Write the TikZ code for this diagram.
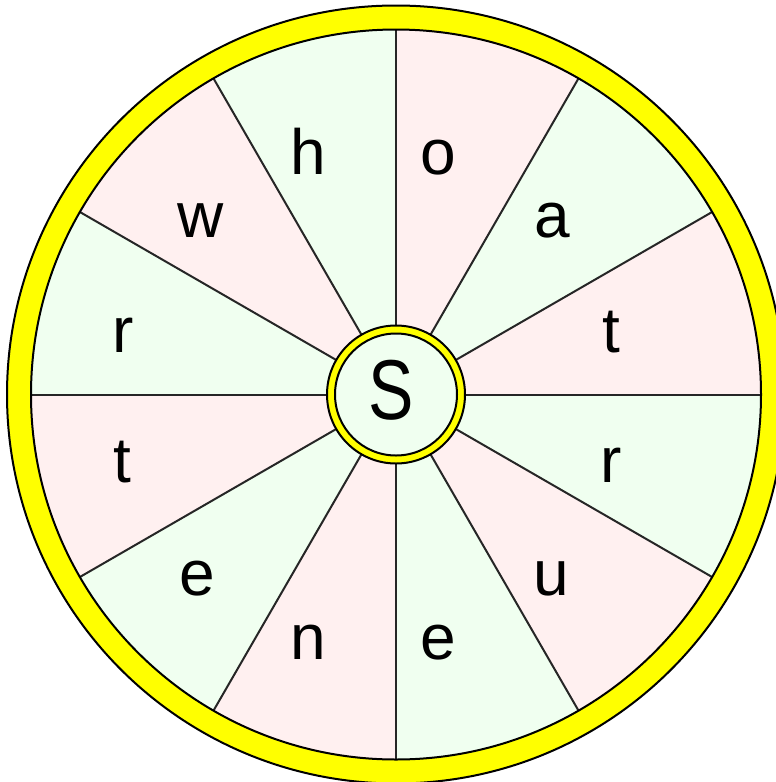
\documentclass[tikz,border=0pt]{standalone}
\usepackage{fontspec}
\setmainfont{Liberation Sans}
\definecolor{pinkc}{HTML}{FFF0F0}
\definecolor{greenc}{HTML}{F0FFF0}
\definecolor{ringy}{HTML}{FFFF00}
\begin{document}
\begin{tikzpicture}[x=1pt,y=1pt,
  letter/.style={font=\fontsize{64}{64}\selectfont, anchor=base, inner sep=0pt},
  spoke/.style={line width=2pt, draw=black!85},
  edgeline/.style={line width=2pt, draw=black}]
\useasboundingbox (0,0) rectangle (776,-782);
\clip (0,0) rectangle (776,-782);
\fill[white] (0,0) rectangle (776,-782);
\coordinate (c) at (396,-394.5);
% sectors
\foreach \s in {90,30,-30,-90,-150,-210}
  \fill[pinkc] (c) -- ++(\s:365) arc[start angle=\s, delta angle=-30, radius=365] -- cycle;
\foreach \s in {60,0,-60,-120,-180,-240}
  \fill[greenc] (c) -- ++(\s:365) arc[start angle=\s, delta angle=-30, radius=365] -- cycle;
% spokes
\foreach \a in {0,30,...,330}
  \draw[spoke] (c) -- ++(\a:365);
% outer ring
\draw[ringy, line width=24pt] (c) circle[radius=377];
\draw[edgeline] (c) circle[radius=365];
\draw[edgeline] (c) circle[radius=389];
% centre hub
\fill[greenc] (c) circle[radius=61];
\draw[ringy, line width=8pt] (c) circle[radius=65];
\draw[edgeline] (c) circle[radius=61];
\draw[edgeline] (c) circle[radius=69];
\node[font=\fontsize{85}{85}\selectfont, xscale=0.8, anchor=base, inner sep=0pt] (S) at (391.5,-419) {S};
% letters
\node[letter] (h)  at (308,-174) {h};
\node[letter] (o)  at (438.5,-174) {o};
\node[letter] (w)  at (200.5,-237) {w};
\node[letter] (a)  at (552,-237) {a};
\node[letter] (r1) at (123,-352) {r};
\node[letter] (t1) at (611,-352) {t};
\node[letter] (t2) at (122.5,-482) {t};
\node[letter] (r2) at (611,-482) {r};
\node[letter] (e1) at (197.5,-595) {e};
\node[letter] (u)  at (551,-595) {u};
\node[letter] (n)  at (308.5,-659) {n};
\node[letter] (e2) at (438.5,-659) {e};
\end{tikzpicture}
\end{document}
